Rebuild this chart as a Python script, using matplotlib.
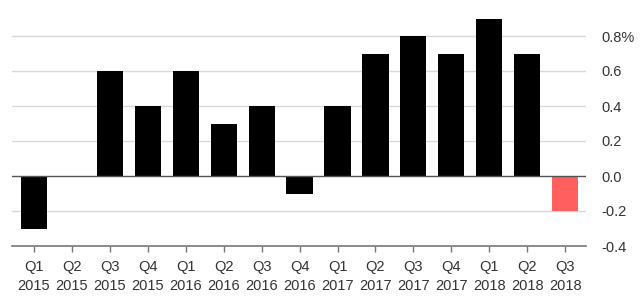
import matplotlib
matplotlib.use("Agg")
import matplotlib.pyplot as plt

quarters = ["Q1", "Q2", "Q3", "Q4", "Q1", "Q2", "Q3", "Q4", "Q1", "Q2", "Q3", "Q4", "Q1", "Q2", "Q3"]
years = ["2015", "2015", "2015", "2015", "2016", "2016", "2016", "2016",
         "2017", "2017", "2017", "2017", "2018", "2018", "2018"]
values = [-0.3, 0.0, 0.6, 0.4, 0.6, 0.3, 0.4, -0.1, 0.4, 0.7, 0.8, 0.7, 0.9, 0.7, -0.2]
colors = ["#000000"] * 14 + ["#ff5f5f"]
yticks = [-0.4, -0.2, 0.0, 0.2, 0.4, 0.6, 0.8]
ytick_labels = ["-0.4", "-0.2", "0.0", "0.2", "0.4", "0.6", "0.8%"]

plt.rcParams['font.family'] = ['Liberation Sans', 'DejaVu Sans']

fig = plt.figure(figsize=(6.41, 3.01), dpi=100)
ax = fig.add_axes([12/641, 55/301, (586-12)/641, (246-9.75)/301])

x = list(range(len(values)))
ax.bar(x, values, width=0.69, color=colors, zorder=3)

ax.set_xlim(-0.58, 14.55)
ax.set_ylim(-0.4, 0.95)

for t in yticks:
    if t == 0.0:
        ax.axhline(t, color="#555555", lw=1.0, zorder=4)
    elif t == -0.4:
        pass
    else:
        ax.axhline(t, color="#d9d9d9", lw=1.0, zorder=1)

ax.yaxis.tick_right()
ax.set_yticks(yticks)
ax.set_yticklabels(ytick_labels)
ax.tick_params(axis="y", length=0, pad=11, labelsize=10.5, labelcolor="#333333")

ax.set_xticks(x)
ax.set_xticklabels([f"{q}\n{y}" for q, y in zip(quarters, years)], linespacing=1.5)
ax.tick_params(axis="x", length=4, width=1, color="#777777", pad=6, labelsize=10.5, labelcolor="#333333")

for s in ["top", "left", "right"]:
    ax.spines[s].set_visible(False)
ax.spines["bottom"].set_color("#777777")
ax.spines["bottom"].set_linewidth(1.2)

fig.savefig("out.png", dpi=100)
